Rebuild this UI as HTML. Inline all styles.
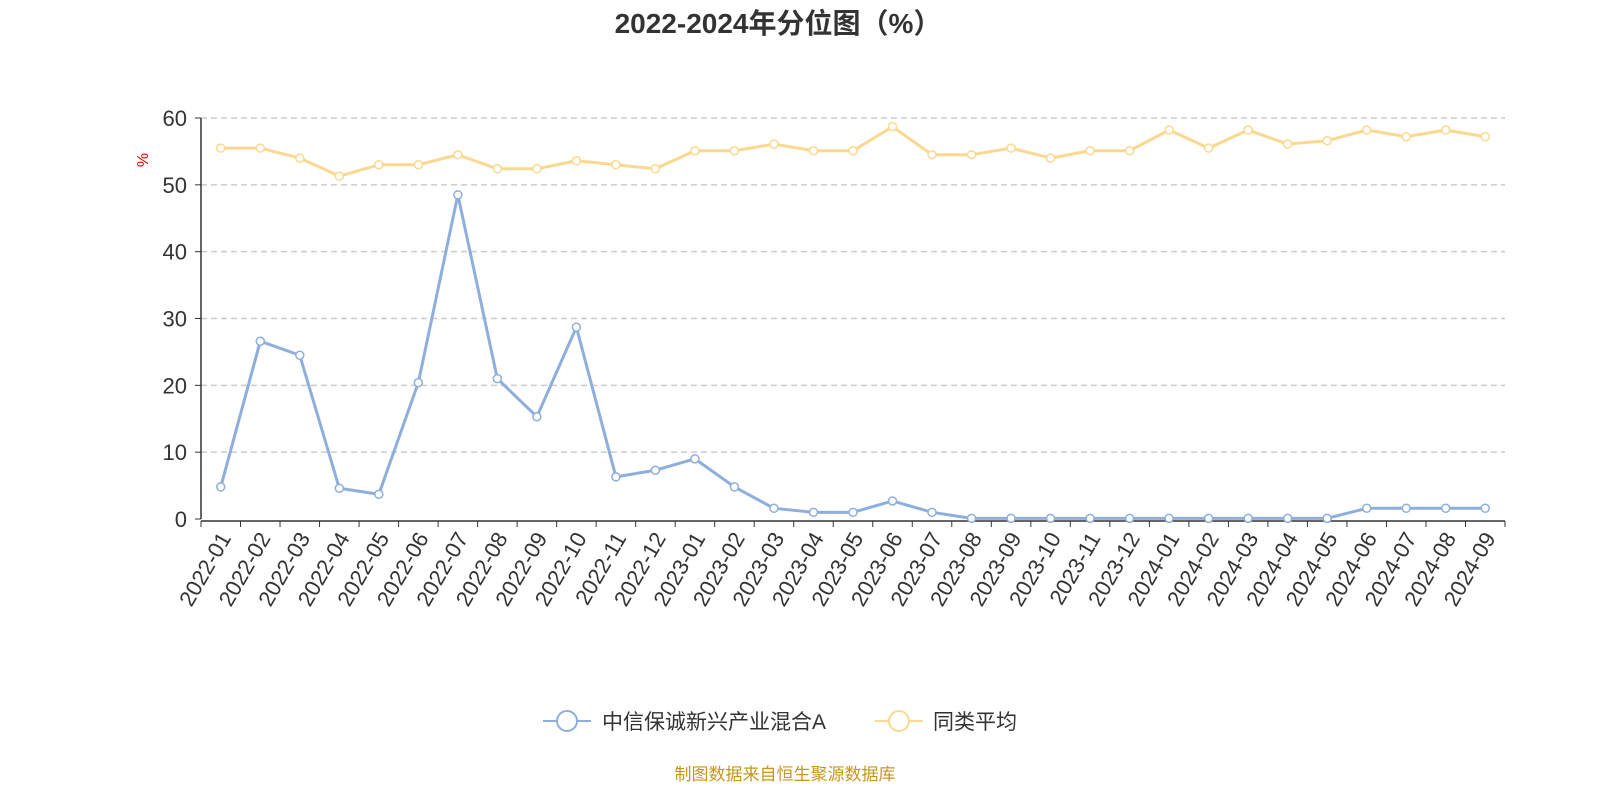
<!DOCTYPE html>
<html><head><meta charset="utf-8"><style>
html,body{margin:0;padding:0;background:#fff;}
svg{display:block;font-family:"Liberation Sans","Noto Sans CJK SC",sans-serif;}
</style></head><body>
<svg id="chart" width="1600" height="800">
<text x="778" y="33" text-anchor="middle" font-size="28" font-weight="bold" fill="#333">2022-2024年分位图（%）</text>
<text x="0" y="0" transform="translate(148,160) rotate(-90)" text-anchor="middle" font-size="16" fill="#e00">%</text>
<g id="grid"></g><g id="axes"></g><g id="series"></g>
<g>
<g>
<line x1="543" y1="721" x2="591" y2="721" stroke="#8eaedb" stroke-width="2"/>
<circle cx="567" cy="721" r="10" fill="#fff" stroke="#8eaedb" stroke-width="2"/>
<text x="602" y="729" font-size="21" fill="#333">中信保诚新兴产业混合A</text></g>
<g>
<line x1="875" y1="721" x2="923" y2="721" stroke="#fbd88f" stroke-width="2"/>
<circle cx="899" cy="721" r="10" fill="#fff" stroke="#fbd88f" stroke-width="2"/>
<text x="933" y="729" font-size="21" fill="#333">同类平均</text></g>
</g>
<text x="785" y="780" text-anchor="middle" font-size="17" fill="#c8961e">制图数据来自恒生聚源数据库</text>
</svg>
<script>
const categories=["2022-01","2022-02","2022-03","2022-04","2022-05","2022-06","2022-07","2022-08","2022-09","2022-10","2022-11","2022-12","2023-01","2023-02","2023-03","2023-04","2023-05","2023-06","2023-07","2023-08","2023-09","2023-10","2023-11","2023-12","2024-01","2024-02","2024-03","2024-04","2024-05","2024-06","2024-07","2024-08","2024-09"];
const fundValues=[4.8,26.6,24.5,4.6,3.7,20.4,48.5,21,15.3,28.7,6.3,7.3,9.0,4.8,1.6,1.0,1.0,2.7,1.0,0.1,0.1,0.1,0.1,0.1,0.1,0.1,0.1,0.1,0.1,1.6,1.6,1.6,1.6];
const avgValues=[55.5,55.5,54,51.3,53,53,54.5,52.4,52.4,53.6,53,52.4,55.1,55.1,56.1,55.1,55.1,58.7,54.5,54.5,55.5,54,55.1,55.1,58.2,55.5,58.2,56.1,56.6,58.2,57.2,58.2,57.2];
const yTicks=[0,10,20,30,40,50,60];
const NS="http://www.w3.org/2000/svg";
const X0=201,X1=1505,Y0=519,Y1=118,YMAX=60;
const bw=(X1-X0)/categories.length;
const xPos=i=>X0+bw*(i+0.5);
const yPos=v=>Y0-(v/YMAX)*(Y0-Y1);
function mk(tag,attrs,parent){const e=document.createElementNS(NS,tag);for(const k in attrs)e.setAttribute(k,attrs[k]);parent.appendChild(e);return e;}
const grid=document.getElementById('grid'),axes=document.getElementById('axes'),series=document.getElementById('series');
yTicks.forEach(t=>{
  const y=yPos(t);
  if(t>0){const g=mk('line',{x1:X0,x2:X1,y1:y,y2:y,stroke:'#ccc','stroke-dasharray':'6,4','stroke-width':1.5},grid);
  
  }
  const tk=mk('line',{x1:X0-6,x2:X0,y1:y,y2:y,stroke:'#333'},axes);
  
  
  const tx=mk('text',{x:X0-14,y:y+8,'text-anchor':'end','font-size':22,fill:'#333'},axes);
  tx.textContent=t;
  
  
});
const ya=mk('line',{x1:X0,x2:X0,y1:Y1,y2:Y0,stroke:'#333','stroke-width':1.5},axes);


const xa=mk('line',{x1:X0,x2:X1,y1:Y0+2,y2:Y0+2,stroke:'#333','stroke-width':1.5},axes);


for(let i=0;i<=categories.length;i++){
  const x=X0+bw*i;
  const tk=mk('line',{x1:x,x2:x,y1:Y0+2,y2:Y0+8,stroke:'#333'},axes);
  
  
}
categories.forEach((c,i)=>{
  const x=xPos(i)+6,y=Y0+16;
  const t=mk('text',{x:x,y:y,'text-anchor':'end','font-size':22,fill:'#333',transform:`rotate(-60 ${x} ${y})`,'dominant-baseline':'middle'},axes);
  t.textContent=c;
  
  
});
function drawSeries(vals,color,name){
  const p=mk('polyline',{points:vals.map((v,i)=>xPos(i)+','+yPos(v)).join(' '),fill:'none',stroke:color,'stroke-width':3,'stroke-linejoin':'round'},series);
  
  
  vals.forEach((v,i)=>{
    const c=mk('circle',{cx:xPos(i),cy:yPos(v),r:4,fill:'#fff',stroke:color,'stroke-width':1.5},series);
    
    
  });
}
drawSeries(avgValues,'#fbd88f','average');
drawSeries(fundValues,'#8eaedb','fund');
</script>
</body></html>
